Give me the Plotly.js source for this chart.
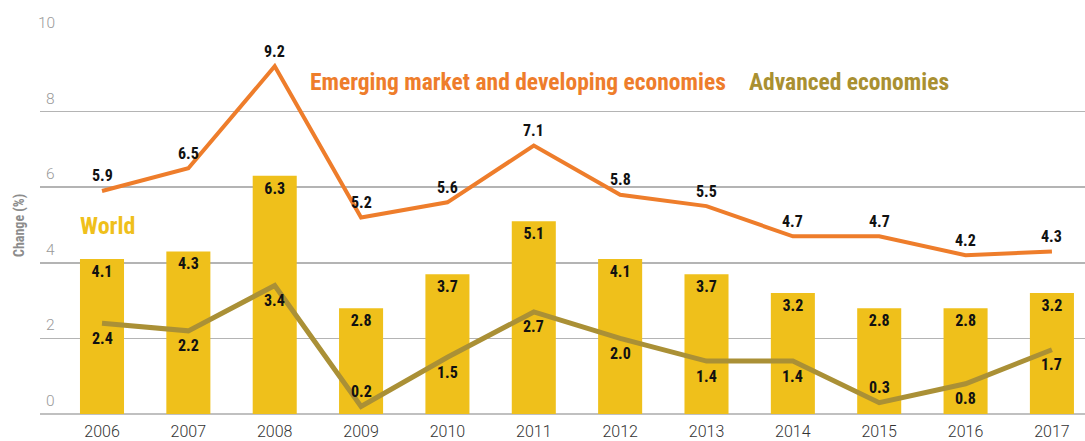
<!DOCTYPE html>
<html>
<head>
<meta charset="utf-8">
<script src="https://cdn.plot.ly/plotly-3.0.1.min.js"></script>
<style>
html,body{margin:0;padding:0;background:#fff;}
#chart{width:1085px;height:441px;}
</style>
</head>
<body>
<div id="chart"></div>
<script>
const years = ["2006","2007","2008","2009","2010","2011","2012","2013","2014","2015","2016","2017"];
const world = [4.1,4.3,6.3,2.8,3.7,5.1,4.1,3.7,3.2,2.8,2.8,3.2];
const emerging = [5.9,6.5,9.2,5.2,5.6,7.1,5.8,5.5,4.7,4.7,4.2,4.3];
const advanced = [2.4,2.2,3.4,0.2,1.5,2.7,2.0,1.4,1.4,0.3,0.8,1.7];
const yTicks = [0,2,4,6,8,10];

// label placement for the advanced-economies values: -1 below the line, +1 above
const advSide = [-1,-1,-1,1,-1,-1,-1,-1,-1,1,-1,-1];

const xIdx = years.map((_, i) => i);
const fmt = v => v.toFixed(1);
const COND = "Roboto Condensed, Roboto, sans-serif";
const labelFont = {family: COND, size: 16, color: "#111", weight: 700};

const traces = [
  {
    type: "bar", x: xIdx, y: world, width: 0.51,
    marker: {color: "#EFC01B"},
    text: world.map(fmt), textposition: "inside", insidetextanchor: "end",
    textfont: labelFont, constraintext: "none",
    hoverinfo: "skip", name: "World"
  },
  {
    type: "scatter", mode: "lines", x: xIdx, y: advanced,
    line: {color: "#AA9036", width: 5},
    name: "Advanced economies", cliponaxis: false
  },
  {
    type: "scatter", mode: "lines", x: xIdx, y: emerging,
    line: {color: "#EE7D2B", width: 4},
    name: "Emerging market and developing economies", cliponaxis: false
  }
];

const seriesFont = {family: COND, size: 23.5, weight: 700};
const annotations = [
  {xref: "paper", yref: "paper", x: 0.2565, y: 0.878, xanchor: "left", yanchor: "middle",
   text: "Emerging market and developing economies", showarrow: false,
   font: Object.assign({}, seriesFont, {color: "#EE7D2B"})},
  {xref: "paper", yref: "paper", x: 0.6765, y: 0.878, xanchor: "left", yanchor: "middle",
   text: "Advanced economies", showarrow: false,
   font: Object.assign({}, seriesFont, {color: "#A99031"})},
  {xref: "paper", yref: "paper", x: 0.0365, y: 0.497, xanchor: "left", yanchor: "middle",
   text: "World", showarrow: false,
   font: Object.assign({}, seriesFont, {size: 24, color: "#EFC01B"})},
  {xref: "paper", yref: "paper", x: -0.0201, y: 0.5, xanchor: "center", yanchor: "middle",
   text: "Change (%)", textangle: -90, showarrow: false,
   font: {family: COND, size: 14, color: "#8c8c8c", weight: 700}}
];
yTicks.forEach(t => {
  annotations.push({xref: "paper", yref: "y", x: 0.0165, y: t, xanchor: "right", yanchor: "bottom",
    yshift: 2, text: String(t), showarrow: false,
    font: {family: "Roboto, sans-serif", size: 15.5, color: "#9a9a9a", weight: 300}});
});
xIdx.forEach(i => {
  annotations.push({xref: "x", yref: "y", x: i, y: emerging[i], yshift: 15,
    xanchor: "center", yanchor: "middle", text: fmt(emerging[i]), showarrow: false, font: labelFont});
  annotations.push({xref: "x", yref: "y", x: i, y: advanced[i], yshift: 15 * advSide[i],
    xanchor: "center", yanchor: "middle", text: fmt(advanced[i]), showarrow: false, font: labelFont});
});

const layout = {
  width: 1085, height: 441,
  margin: {l: 40, r: 0, t: 36, b: 27, pad: 0},
  paper_bgcolor: "#fff", plot_bgcolor: "#fff",
  showlegend: false,
  xaxis: {
    range: [-0.718, 11.383], tickmode: "array", tickvals: xIdx, ticktext: years,
    showgrid: false, zeroline: false, showline: false, ticks: "",
    ticklabelstandoff: 6,
    tickfont: {family: "Roboto, sans-serif", size: 16, color: "#333", weight: 300},
    fixedrange: true
  },
  yaxis: {
    range: [0, 10], tickvals: yTicks, showticklabels: false,
    showgrid: true, gridcolor: "#b4b4b4", gridwidth: 1.5,
    zeroline: true, zerolinecolor: "#c0c0c0", zerolinewidth: 2,
    showline: false, ticks: "",
    automargin: false, fixedrange: true
  },
  annotations: annotations
};

Plotly.newPlot("chart", traces, layout, {displayModeBar: false, staticPlot: true});
</script>
</body>
</html>
